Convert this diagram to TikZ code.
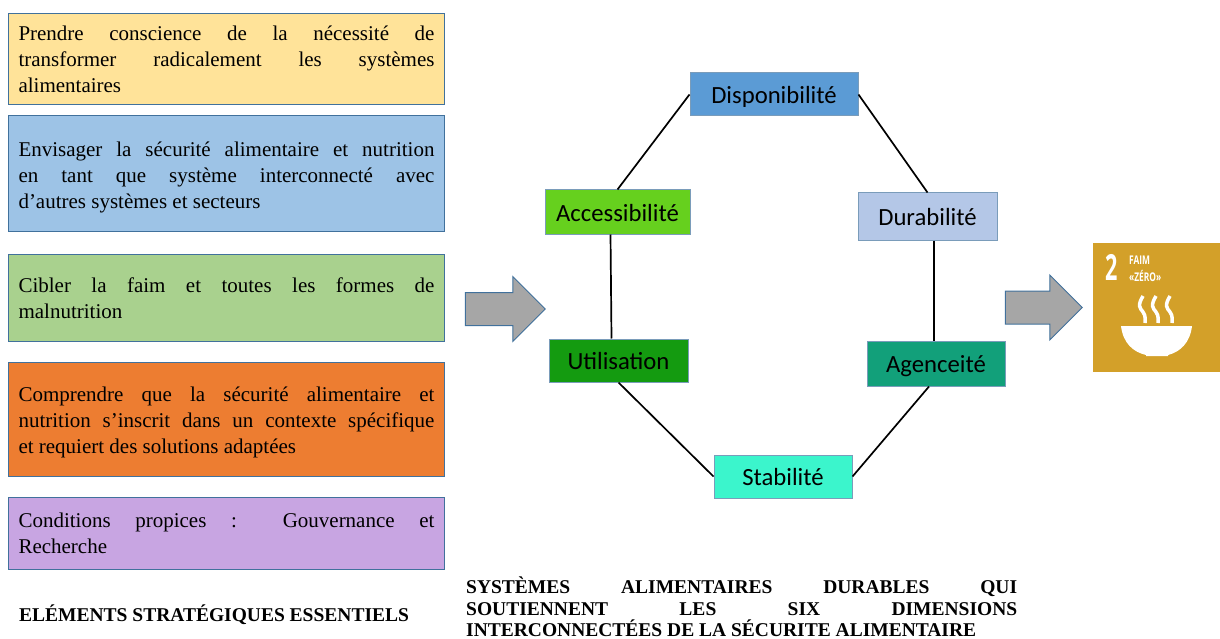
\documentclass[tikz,border=0pt]{standalone}
\usepackage{fontspec}
\setmainfont{Liberation Serif}
\newfontfamily\boxfont{Carlito}
\newfontfamily\logofont{Open Sans}
\usetikzlibrary{shapes.arrows}
\definecolor{boxline}{HTML}{41719C}
\definecolor{logogold}{HTML}{D3A029}
\definecolor{prendrefill}{HTML}{FFE399}
\definecolor{envisagerfill}{HTML}{9DC3E6}
\definecolor{ciblerfill}{HTML}{A9D18E}
\definecolor{comprendrefill}{HTML}{ED7D31}
\definecolor{conditionsfill}{HTML}{C8A5E2}
\definecolor{dispofill}{HTML}{5B9BD5}
\definecolor{accessfill}{HTML}{66D01E}
\definecolor{durafill}{HTML}{B4C7E7}
\definecolor{utilfill}{HTML}{149B10}
\definecolor{agencefill}{HTML}{12A07A}
\definecolor{stabfill}{HTML}{3BF5CC}
\newcommand{\dropline}[1]{\rule{0pt}{#1pt}}
\tikzset{
	stratbox/.style={draw=boxline, line width=1pt, fill=#1, minimum width=436pt, text width=416pt, inner xsep=10pt, inner ysep=0pt, align=justify, font=\fontsize{21}{26}\selectfont, execute at begin node={\tolerance=9999\hyphenpenalty=10000}},
	dimbox/.style={draw=boxline!70, line width=1pt, fill=#1, inner sep=0pt, text height=18pt, text depth=0pt, font=\boxfont\fontsize{24.7}{28}\selectfont},
	bigarrow/.style={draw=boxline, line width=1pt, fill=black!35, single arrow, single arrow head extend=16pt, inner sep=16pt, minimum width=64pt},
	link/.style={line width=1.7pt},
	caption/.style={inner sep=0pt, font=\bfseries\fontsize{19.5}{21.5}\selectfont, execute at begin node={\tolerance=9999\hyphenpenalty=10000}},
	logotext/.style={inner sep=0pt, text=white}
}
\begin{document}
\begin{tikzpicture}[x=1pt, y=-1pt]
	\useasboundingbox (0,0) rectangle (1220,639);
	% left column
	\node[stratbox=prendrefill, minimum height=91pt] (prendre) at (226.5,59) {\dropline{16}Prendre conscience de la nécessité de\linebreak transformer radicalement les systèmes\linebreak alimentaires};
	\node[stratbox=envisagerfill, minimum height=116pt] (envisager) at (226.5,173.5) {\dropline{22}Envisager la sécurité alimentaire et nutrition\linebreak en tant que système interconnecté avec\linebreak d’autres systèmes et secteurs};
	\node[stratbox=ciblerfill, minimum height=87pt] (cibler) at (226.5,297.5) {\dropline{16}Cibler la faim et toutes les formes de\linebreak malnutrition};
	\node[stratbox=comprendrefill, minimum height=114pt] (comprendre) at (226.5,419) {\dropline{21}Comprendre que la sécurité alimentaire et\linebreak nutrition s’inscrit dans un contexte spécifique\linebreak et requiert des solutions adaptées};
	\node[stratbox=conditionsfill, minimum height=72pt] (conditions) at (226.5,533) {\dropline{16}Conditions propices : Gouvernance et\linebreak Recherche};
	\node[caption, anchor=west] (elements) at (19,615) {ELÉMENTS STRATÉGIQUES ESSENTIELS};
	% arrows
	\node[bigarrow, minimum height=80pt] (arrowa) at (497,309) {};
	\node[bigarrow, minimum height=77pt] (arrowb) at (1035.5,307.5) {};
	% six dimensions
	\node[dimbox=dispofill, minimum width=168pt, minimum height=43pt] (dispo) at (774,94.5) {Disponibilité};
	\node[dimbox=accessfill, minimum width=145pt, minimum height=44pt] (access) at (617.5,212) {Accessibilité};
	\node[dimbox=durafill, minimum width=139pt, minimum height=47pt] (dura) at (927.5,216.5) {Durabilité};
	\node[dimbox=utilfill, minimum width=139pt, minimum height=43pt] (util) at (618.5,360.5) {Utilisation};
	\node[dimbox=agencefill, minimum width=138pt, minimum height=45pt] (agence) at (936,363.5) {Agenceité};
	\node[dimbox=stabfill, minimum width=138pt, minimum height=43pt] (stab) at (783,476.5) {Stabilité};
	\draw[link] (dispo.west) -- (access.north);
	\draw[link] (dispo.east) -- (dura.north);
	\draw[link] ([xshift=-7pt]access.south) -- ([xshift=-7pt]util.north);
	\draw[link] ([xshift=6.5pt]dura.south) -- ([xshift=-2pt]agence.north);
	\draw[link] (util.south) -- (stab.west);
	\draw[link] (stab.east) -- ([xshift=-7pt]agence.south);
	\node[caption, anchor=north west, text width=551pt, align=justify] (systemes) at (466,577) {SYSTÈMES ALIMENTAIRES DURABLES QUI\linebreak SOUTIENNENT LES SIX DIMENSIONS\linebreak INTERCONNECTÉES DE LA SÉCURITE ALIMENTAIRE};
	% logo
	\fill[logogold] (1093,243) rectangle (1220,372);
	\node[logotext, font=\logofont\bfseries\fontsize{36}{36}\selectfont, xscale=.6, anchor=west] (deux) at (1105,267) {2};
	\node[logotext, font=\logofont\bfseries\fontsize{12}{12}\selectfont, xscale=.7, anchor=west] (faim) at (1129,260) {FAIM};
	\node[logotext, font=\logofont\bfseries\fontsize{12}{12}\selectfont, xscale=.7, anchor=west] (zero) at (1129,276) {«ZÉRO»};
	\fill[white] (1121,326) -- (1192,326) .. controls (1190,343) and (1180,352) .. (1168,355) -- (1168,356) -- (1146,356) -- (1146,355) .. controls (1133,352) and (1123,343) .. (1121,326) -- cycle;
	\foreach \x in {1143,1156,1170}
		\draw[white, line width=3.5pt] (\x,296) .. controls (\x-6,306) and (\x-3,308) .. (\x,312) .. controls (\x+3,316) and (\x+2,320) .. (\x+2,323);
\end{tikzpicture}
\end{document}
